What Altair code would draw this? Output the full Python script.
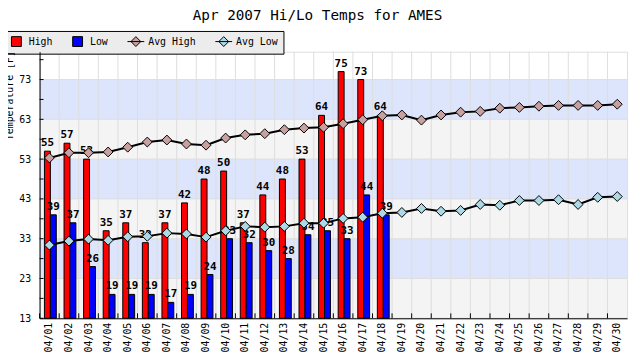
import altair as alt
import pandas as pd

days = ["04/01", "04/02", "04/03", "04/04", "04/05", "04/06", "04/07", "04/08",
        "04/09", "04/10", "04/11", "04/12", "04/13", "04/14", "04/15", "04/16",
        "04/17", "04/18", "04/19", "04/20", "04/21", "04/22", "04/23", "04/24",
        "04/25", "04/26", "04/27", "04/28", "04/29", "04/30"]
high = [55, 57, 53, 35, 37, 32, 37, 42, 48, 50, 37, 44, 48, 53, 64, 75, 73, 64]
low = [39, 37, 26, 19, 19, 19, 17, 19, 24, 33, 32, 30, 28, 34, 35, 33, 44, 39]
avg_high = [53.3, 54.6, 54.6, 54.8, 56.0, 57.3, 57.8, 56.8, 56.5, 58.3, 59.1, 59.4,
            60.4, 60.8, 61.0, 61.9, 62.9, 63.9, 64.1, 62.8, 64.1, 64.8, 65.0, 65.8,
            66.0, 66.3, 66.5, 66.5, 66.5, 66.8]
avg_low = [31.4, 32.4, 32.9, 32.6, 33.5, 33.6, 34.4, 34.2, 33.4, 35.0, 36.1, 35.9,
           36.1, 36.9, 36.9, 38.1, 38.4, 39.4, 39.6, 40.6, 39.9, 40.1, 41.6, 41.4,
           42.6, 42.6, 42.8, 41.6, 43.4, 43.6]
series = ["High", "Low", "Avg High", "Avg Low"]
series_colors = ["#ff0000", "#0000ff", "#c9a0a0", "#add8e6"]
band_lo = [13, 23, 33, 43, 53, 63]
band_hi = [23, 33, 43, 53, 63, 73]
band_fill = ["#f4f4f4", "#dce5fb", "#f4f4f4", "#dce5fb", "#f4f4f4", "#dce5fb"]
major_ticks = [13, 23, 33, 43, 53, 63, 73]
minor_ticks = [13, 18, 23, 28, 33, 38, 43, 48, 53, 58, 63, 68, 73, 78]

W, H = 595, 270
MONO = "DejaVu Sans Mono"

obs = pd.DataFrame({"day": days[:len(high)], "High": high, "Low": low})
avgh = pd.DataFrame({"day": days, "value": avg_high})
avgl = pd.DataFrame({"day": days, "value": avg_low})
bands = pd.DataFrame({"lo": band_lo, "hi": band_hi, "fill": band_fill})
ticks = pd.DataFrame({"t": minor_ticks})
grid_h = pd.DataFrame({"t": major_ticks})
day_df = pd.DataFrame({"day": days})
# legend-only points sit outside the y domain and are clipped away
legend_df = pd.DataFrame({"series": series, "day": days[:4], "value": [200] * 4})

xscale = alt.Scale(domain=days, paddingInner=0, paddingOuter=0)
yscale = alt.Scale(domain=[13, 80], nice=False, zero=False)

x_axis = alt.Axis(title=None, labelAngle=270, labelFont=MONO, labelFontSize=10,
                  labelColor="black", labelAlign="right", labelBaseline="middle",
                  labelPadding=4, ticks=False, grid=False, domainColor="black",
                  zindex=1)
y_axis = alt.Axis(title="Temperature [F]", values=major_ticks, labelFont=MONO,
                  labelFontSize=10, labelColor="black", labelPadding=9,
                  ticks=False, grid=False, domainColor="black", zindex=1,
                  titleFont=MONO, titleFontSize=10, titleFontWeight="normal",
                  titleColor="black", titleAngle=270, titleAlign="center",
                  titleBaseline="middle", titleX=-30, titleY=44)

bg = alt.Chart(bands).mark_rect().encode(
    y=alt.Y("lo:Q", scale=yscale, axis=y_axis),
    y2="hi:Q",
    color=alt.Color("fill:N", scale=None),
)
vgrid = alt.Chart(day_df).mark_rule(color="#dddddd", strokeWidth=1).encode(
    x=alt.X("day:N", scale=xscale, bandPosition=0, axis=x_axis),
)
hgrid = alt.Chart(grid_h).mark_rule(color="#dddddd", strokeWidth=1).encode(
    y=alt.Y("t:Q"),
)

hi_bar = alt.Chart(obs).mark_bar(width=6, xOffset=-2, color="#ff0000",
                                 stroke="black", strokeWidth=1).encode(
    x="day:N", y="High:Q", y2=alt.datum(13))
lo_bar = alt.Chart(obs).mark_bar(width=6, xOffset=4, color="#0000ff",
                                 stroke="black", strokeWidth=1).encode(
    x="day:N", y="Low:Q", y2=alt.datum(13))
hi_txt = alt.Chart(obs).mark_text(xOffset=-2, dy=-3, baseline="bottom",
                                  font=MONO, fontSize=11, fontWeight="bold",
                                  color="black").encode(
    x="day:N", y="High:Q", text="High:Q")
lo_txt = alt.Chart(obs).mark_text(xOffset=4, dy=-3, baseline="bottom",
                                  font=MONO, fontSize=11, fontWeight="bold",
                                  color="black").encode(
    x="day:N", y="Low:Q", text="Low:Q")

color_scale = alt.Scale(domain=series, range=series_colors)
stroke_scale = alt.Scale(domain=series, range=["black"] * 4)
sq = "M-1,-1H1V1H-1Z"
avg_sym = "M-1.7,0H1.7M-1,0L0,-1L1,0L0,1Z"
shape_scale = alt.Scale(domain=series, range=[sq, sq, avg_sym, avg_sym])
leg = alt.Legend(title=None, orient="none", legendX=-34, legendY=-21,
                 direction="horizontal", fillColor="#ececec", strokeColor="black",
                 padding=5, symbolSize=100, symbolStrokeWidth=1, symbolOpacity=1,
                 labelFont=MONO, labelFontSize=10, labelColor="black",
                 labelOffset=7, columnPadding=17)

line_h = alt.Chart(avgh).mark_line(color="black", strokeWidth=2).encode(
    x="day:N", y="value:Q")
line_l = alt.Chart(avgl).mark_line(color="black", strokeWidth=2).encode(
    x="day:N", y="value:Q")
pts_h = alt.Chart(avgh).mark_point(shape="diamond", filled=True, size=100,
                                   fill=series_colors[2], stroke="black",
                                   strokeWidth=1, opacity=1).encode(
    x="day:N", y="value:Q")
pts_l = alt.Chart(avgl).mark_point(shape="diamond", filled=True, size=100,
                                   fill=series_colors[3], stroke="black",
                                   strokeWidth=1, opacity=1).encode(
    x="day:N", y="value:Q")
legend_layer = alt.Chart(legend_df).mark_point(
    filled=True, clip=True, opacity=1, strokeWidth=1).encode(
    x="day:N", y="value:Q",
    fill=alt.Fill("series:N", scale=color_scale, legend=leg),
    stroke=alt.Stroke("series:N", scale=stroke_scale, legend=leg),
    shape=alt.Shape("series:N", scale=shape_scale, legend=leg))

yticks = alt.Chart(ticks).mark_rule(color="black").encode(
    y="t:Q", x=alt.value(0), x2=alt.value(4))
xticks = alt.Chart(day_df).mark_rule(color="black").encode(
    x=alt.X("day:N", bandPosition=0), y=alt.value(H - 5), y2=alt.value(H))

chart = alt.layer(
    bg, vgrid, hgrid, hi_bar, lo_bar, hi_txt, lo_txt, line_h, line_l,
    pts_h, pts_l, legend_layer, yticks, xticks,
).properties(
    width=W, height=H,
    title=alt.TitleParams("Apr 2007 Hi/Lo Temps for AMES", font=MONO,
                          fontSize=14.5, fontWeight="normal", color="black",
                          anchor="middle", dx=-16, dy=-3),
    autosize=alt.AutoSizeParams(type="none"),
    padding={"left": 32, "top": 42, "right": 5, "bottom": 40},
).configure_view(stroke=None).configure(background="white")

chart.save("out.html", embed_options={"renderer": "svg", "actions": False})
